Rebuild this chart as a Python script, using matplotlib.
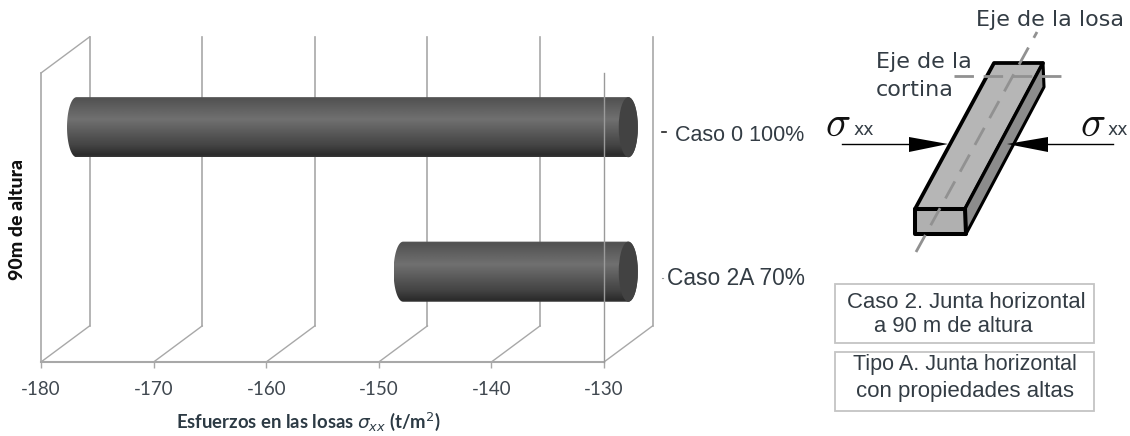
import numpy as np
import matplotlib
matplotlib.use('Agg')
import matplotlib.pyplot as plt
from matplotlib.patches import Ellipse, Polygon, Rectangle
from matplotlib.path import Path

# --- 1. Data ---
categories = ['Caso 0 100%', 'Caso 2A 70%']
esfuerzos = [-179.0, -150.0]
bar_base = -130
x_ticks = [-180, -170, -160, -150, -140, -130]
y_pos = [0.5, 1.5]

W, H = 1130, 436
GRID = '#a8a8a8'
TXT = '#333c44'
BAR_H = 0.208   # half height of a cylinder
CAP_W = 0.85    # half width of the elliptical end
DEPTH_X = 4.32  # 3D wall offset, data units
DEPTH_Y = 0.25

plt.rcParams['axes.unicode_minus'] = False
fig = plt.figure(figsize=(W / 100, H / 100), dpi=100)

# front plane of the 3D chart: x 41..604 px, y 73..362 px
ax = fig.add_axes([41 / W, 1 - 362 / H, 563 / W, 289 / H], facecolor='none')

# --- 2. Walls and gridlines ---
for t in x_ticks:
    ax.plot([t + DEPTH_X] * 2, [0 - DEPTH_Y, 2 - DEPTH_Y], color=GRID, lw=1.2, zorder=1, clip_on=False)
    ax.plot([t, t + DEPTH_X], [2, 2 - DEPTH_Y], color=GRID, lw=1.0, zorder=1, clip_on=False)
ax.plot([-180, -180 + DEPTH_X], [0, -DEPTH_Y], color=GRID, lw=1.0, zorder=1, clip_on=False)
ax.plot([-180, -180], [0, 2], color=GRID, lw=1.2, zorder=1, clip_on=False)
ax.plot([-130, -130], [0, 2], color='#9a9a9a', lw=1.0, zorder=6, clip_on=False)

# --- 3. Cylinders ---
shade = np.interp(np.linspace(0, 1, 120),
                  [0, 0.03, 0.38, 0.8, 0.97, 1],
                  [0.36, 0.32, 0.44, 0.27, 0.17, 0.22]).reshape(-1, 1)
t_arc = np.linspace(-np.pi / 2, np.pi / 2, 40)
for val, y in zip(esfuerzos, y_pos):
    xm = DEPTH_X / 2
    yc = y - DEPTH_Y / 2
    left = np.c_[val + xm - CAP_W * np.cos(t_arc), yc + BAR_H * np.sin(t_arc)]
    right = np.c_[bar_base + xm + CAP_W * np.cos(t_arc), yc + BAR_H * np.sin(t_arc)]
    verts = np.vstack([left, right[::-1], left[:1]])
    outline = Path(verts, closed=True)
    im = ax.imshow(shade, cmap='gray', vmin=0, vmax=1, aspect='auto', zorder=3,
                   extent=[val + xm - CAP_W, bar_base + xm + CAP_W, yc + BAR_H, yc - BAR_H])
    im.set_clip_box(fig.bbox)
    im.set_clip_path(outline, ax.transData)
    ax.add_patch(Ellipse((bar_base + xm, yc), 2 * CAP_W, 2 * BAR_H, fc='#424242', ec='none',
                         zorder=4, clip_on=False))
ax.set_xlim(-180, -130)
ax.set_ylim(2, 0)

# --- 4. Axes ---
for s in ['top', 'left', 'right']:
    ax.spines[s].set_visible(False)
ax.spines['bottom'].set_color(GRID)
ax.spines['bottom'].set_linewidth(1.5)
ax.set_yticks([])
ax.set_xticks(x_ticks)
ax.tick_params(axis='x', color=GRID, length=4, width=1.0, pad=10,
               labelsize=13.5, labelcolor='#404850')
for lab in ax.get_xticklabels():
    lab.set_family('Lato')

# --- 5. Overlay in pixels for labels and the slab sketch ---
ov = fig.add_axes([0, 0, 1, 1], facecolor='none', zorder=10)
ov.set_xlim(0, W)
ov.set_ylim(H, 0)
ov.axis('off')

ov.text(308, 422, r'Esfuerzos en las losas $\sigma_{xx}$ (t/m$^2$)', family='Lato', weight='bold',
        fontsize=13.3, color='#2c3a44', ha='center', va='center',
        math_fontfamily='dejavusans')
ov.text(18, 219, '90m de altura', family='Lato', weight='black', fontsize=14, color='#101010',
        rotation=90, ha='center', va='center')

label_x = [675, 667]
label_y = [135, 278]
label_fs = [15.5, 16.4]
for name, lx, ly, fs in zip(categories, label_x, label_y, label_fs):
    ov.text(lx, ly, name, family='Liberation Sans', fontsize=fs, color=TXT, va='center')
ov.plot([662, 666], [132, 132], color='#222222', lw=1.2)
ov.plot([662, 663], [278, 278], color='#999999', lw=0.8)

# slab
ov.add_patch(Polygon([(915, 209), (965, 209), (1043, 63), (994, 63)], fc='#b6b6b6', ec='black',
                     lw=2.7, joinstyle='round'))
ov.add_patch(Polygon([(965, 209), (1043, 63), (1044, 87), (966, 234)], fc='#8c8c8c', ec='black',
                     lw=2.2, joinstyle='round'))
ov.add_patch(Polygon([(915, 209), (965, 209), (966, 234), (915, 234)], fc='#b0b0b0', ec='black',
                     lw=2.9, joinstyle='round'))
ov.plot([916, 1037], [252, 32], color='#919191', lw=2.0, dashes=(7, 4))
ov.plot([954, 1068], [76, 76], color='#919191', lw=2.0, dashes=(7, 3.5))

# arrows
ov.plot([842, 910], [144, 144], color='black', lw=1.0)
ov.plot([1048, 1113], [144, 144], color='black', lw=1.0)
ov.add_patch(Polygon([(909, 137), (909, 152), (948, 144)], fc='black', ec='none'))
ov.add_patch(Polygon([(1048, 137), (1048, 152), (1007, 144)], fc='black', ec='none'))

for sx, xx in [(825, 853), (1080, 1108)]:
    ov.text(sx, 124, r'$\sigma$', fontsize=30, color='#111111', va='center',
            math_fontfamily='cm')
    ov.text(xx, 130, 'xx', family='DejaVu Sans', fontsize=12.5, color=TXT, va='center')

ov.text(976, 20, 'Eje de la losa', family='DejaVu Sans', fontsize=16, color=TXT, va='center')
ov.text(876, 62, 'Eje de la', family='DejaVu Sans', fontsize=16, color=TXT, va='center')
ov.text(876, 90, 'cortina', family='DejaVu Sans', fontsize=16, color=TXT, va='center')

# note boxes
ov.add_patch(Rectangle((835, 284), 259, 59, fc='white', ec='#c4c4c4', lw=1.3))
ov.add_patch(Rectangle((835, 352), 259, 59, fc='white', ec='#c4c4c4', lw=1.3))
box_lines = [(847, 302, 'Caso 2. Junta horizontal', 15.9), (874, 326, 'a 90 m de altura', 15.8),
             (853, 364, 'Tipo A. Junta horizontal', 15.5), (856, 391, 'con propiedades altas', 16.0)]
for bx, by, line, fs in box_lines:
    ov.text(bx, by, line, family='Liberation Sans', fontsize=fs, color=TXT, va='center')

fig.savefig('out.png', dpi=100)
